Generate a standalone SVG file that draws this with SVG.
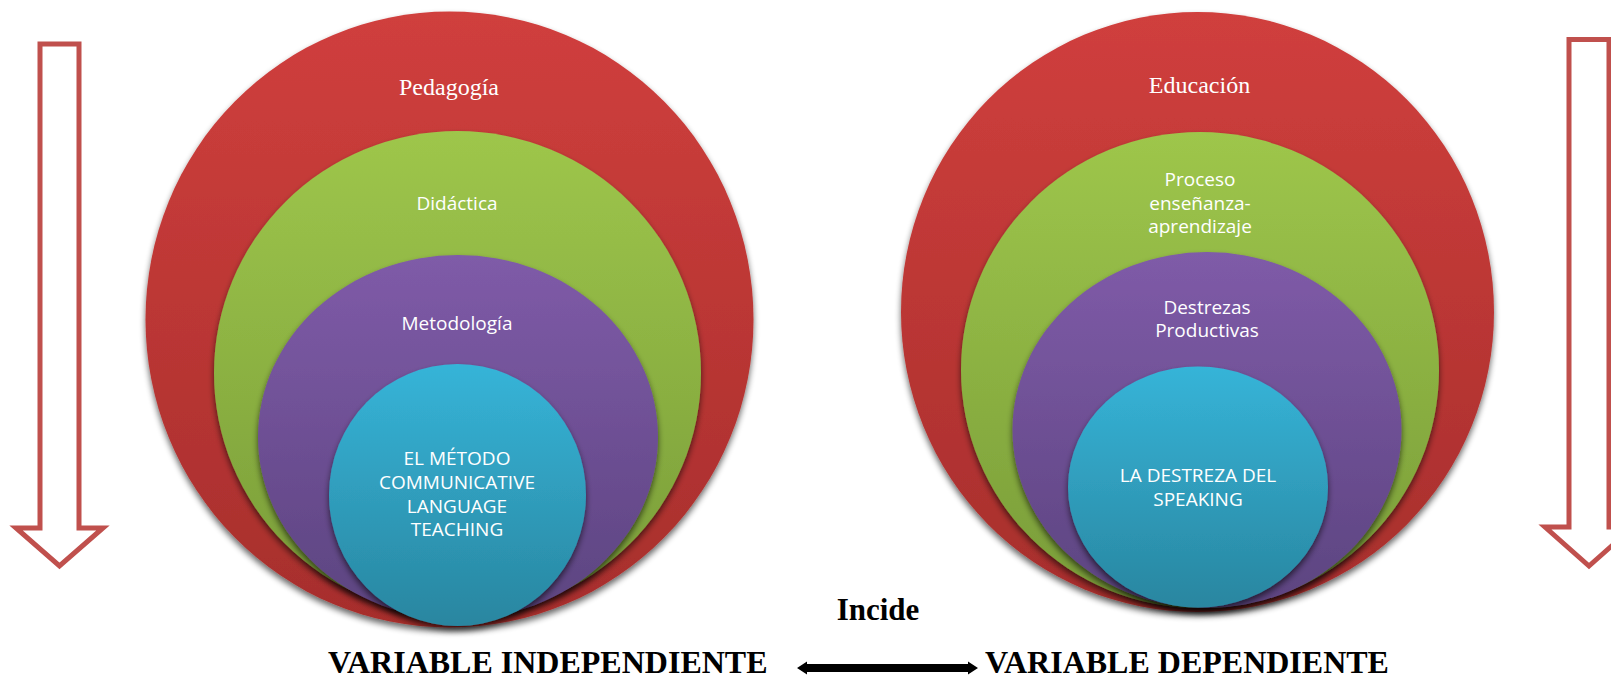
<svg xmlns="http://www.w3.org/2000/svg" width="1611" height="680" viewBox="0 0 1611 680">
  <style>
    .lbl-serif { font-family: "Liberation Serif", "Times New Roman", serif; font-size: 24px; fill: #ffffff; text-anchor: middle; }
    .lbl { font-family: "Open Sans", "Noto Sans", sans-serif; font-size: 19px; fill: #ffffff; text-anchor: middle; }
    .big { font-family: "Liberation Serif", "Times New Roman", serif; font-weight: bold; fill: #000000; }
    .down { fill: #ffffff; stroke: #c0504d; stroke-width: 5; stroke-linejoin: miter; }
    .sh { filter: url(#shadow); }
  </style>
  <defs>
    <linearGradient id="gRed" x1="0" y1="0" x2="0" y2="1">
      <stop offset="0" stop-color="#d03f3d"/>
      <stop offset="1" stop-color="#a62e2c"/>
    </linearGradient>
    <linearGradient id="gGreen" x1="0" y1="0" x2="0" y2="1">
      <stop offset="0" stop-color="#9ec64b"/>
      <stop offset="1" stop-color="#799c39"/>
    </linearGradient>
    <linearGradient id="gPurple" x1="0" y1="0" x2="0" y2="1">
      <stop offset="0" stop-color="#7f5ba8"/>
      <stop offset="1" stop-color="#5c4480"/>
    </linearGradient>
    <linearGradient id="gCyan" x1="0" y1="0" x2="0" y2="1">
      <stop offset="0" stop-color="#36b4d8"/>
      <stop offset="1" stop-color="#2986a0"/>
    </linearGradient>
    <filter id="shadow" x="-10%" y="-10%" width="120%" height="125%">
      <feGaussianBlur in="SourceAlpha" stdDeviation="3"/>
      <feOffset dx="0" dy="4" result="b"/>
      <feComponentTransfer><feFuncA type="linear" slope="0.6"/></feComponentTransfer>
      <feMerge><feMergeNode/><feMergeNode in="SourceGraphic"/></feMerge>
    </filter>
  </defs>
  <rect width="1611" height="680" fill="#ffffff"/>

  <g id="arrow-left">
    <polygon class="down" points="40,44 79,44 79,528 103,528 59.5,566 16,528 40,528"/>
  </g>
  <g id="arrow-right">
    <polygon class="down" points="1569,39.5 1609,39.5 1609,527 1633,527 1589,566 1545,527 1569,527"/>
  </g>

  <g id="node-pedagogia">
    <ellipse class="sh" cx="449.5" cy="319.5" rx="304" ry="308" fill="url(#gRed)"/>
    <text class="lbl-serif" x="449" y="95">Pedagogía</text>
  </g>
  <g id="node-didactica">
    <ellipse class="sh" cx="457.5" cy="373" rx="243.5" ry="242" fill="url(#gGreen)"/>
    <text class="lbl" x="457" y="210">Didáctica</text>
  </g>
  <g id="node-metodologia">
    <ellipse class="sh" cx="458" cy="437" rx="200" ry="182" fill="url(#gPurple)"/>
    <text class="lbl" x="457" y="330">Metodología</text>
  </g>
  <g id="node-metodo-clt">
    <ellipse class="sh" cx="457.5" cy="495" rx="128.5" ry="131" fill="url(#gCyan)"/>
    <text class="lbl" x="457" y="465">EL MÉTODO</text>
    <text class="lbl" x="457" y="489">COMMUNICATIVE</text>
    <text class="lbl" x="457" y="513">LANGUAGE</text>
    <text class="lbl" x="457" y="536">TEACHING</text>
  </g>

  <g id="node-educacion">
    <ellipse class="sh" cx="1197.5" cy="312" rx="296.5" ry="300" fill="url(#gRed)"/>
    <text class="lbl-serif" x="1199.5" y="93">Educación</text>
  </g>
  <g id="node-proceso">
    <ellipse class="sh" cx="1200" cy="370" rx="239" ry="238" fill="url(#gGreen)"/>
    <text class="lbl" x="1200" y="186">Proceso</text>
    <text class="lbl" x="1200" y="210">enseñanza-</text>
    <text class="lbl" x="1200" y="233">aprendizaje</text>
  </g>
  <g id="node-destrezas">
    <ellipse class="sh" cx="1207" cy="430" rx="194.5" ry="178" fill="url(#gPurple)"/>
    <text class="lbl" x="1207" y="314">Destrezas</text>
    <text class="lbl" x="1207" y="337">Productivas</text>
  </g>
  <g id="node-speaking">
    <ellipse class="sh" cx="1198" cy="487" rx="130" ry="120.5" fill="url(#gCyan)"/>
    <text class="lbl" x="1198" y="482">LA DESTREZA DEL</text>
    <text class="lbl" x="1198" y="506">SPEAKING</text>
  </g>

  <g id="connectors">
    <polygon fill="#000000" points="797,668 807,661.5 807,664 968,664 968,661.5 978,668 968,674.5 968,672 807,672 807,674.5"/>
  </g>

  <g id="labels">
    <text class="big" x="878" y="620" font-size="31" text-anchor="middle">Incide</text>
    <text class="big" x="328" y="673" font-size="32">VARIABLE INDEPENDIENTE</text>
    <text class="big" x="985" y="673" font-size="32">VARIABLE DEPENDIENTE</text>
  </g>
</svg>
